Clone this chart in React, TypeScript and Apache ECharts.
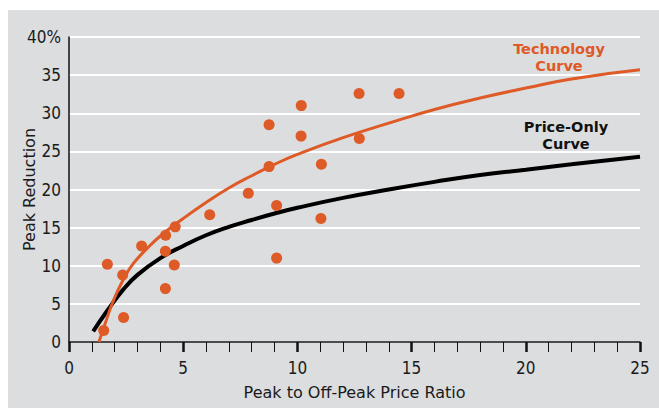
import React, { useEffect, useRef } from "react";
import * as echarts from "echarts";

const xTicks = [0, 5, 10, 15, 20, 25];
const yTicks = [0, 5, 10, 15, 20, 25, 30, 35, 40];

const observedRatio = [1.68, 1.52, 2.35, 2.39, 3.18, 4.23, 4.22, 4.22, 4.65, 4.61, 6.16, 7.85, 8.76, 8.76, 9.09, 9.09, 10.17, 10.16, 11.05, 11.03, 12.7, 12.71, 14.45];
const observedReduction = [10.2, 1.5, 8.8, 3.2, 12.6, 14.0, 11.9, 7.0, 15.1, 10.1, 16.7, 19.5, 28.5, 23.0, 17.9, 11.0, 31.0, 27.0, 23.3, 16.2, 32.6, 26.7, 32.6];

const techX = [1.31, 1.65, 1.94, 2.38, 2.82, 3.4, 4, 5, 6, 7, 8, 9, 10, 12, 14, 16, 18, 20, 22, 25];
const techY = [0, 3.0, 5.4, 8.2, 10.3, 12.2, 13.9, 16.2, 18.3, 20.2, 21.8, 23.3, 24.6, 26.8, 28.7, 30.5, 32.0, 33.3, 34.5, 35.7];

const priceX = [1.06, 1.65, 2.38, 3, 4, 5, 6, 7, 8, 9, 10, 12, 14, 16, 18, 20, 22, 25];
const priceY = [1.4, 4.0, 6.9, 8.8, 11.0, 12.6, 14.0, 15.1, 16.0, 16.85, 17.6, 18.9, 20.0, 21.0, 21.9, 22.6, 23.3, 24.3];

const ORANGE = "#de5a26";
const BG = "#dcdddf";
const NUM_FONT = "'Liberation Sans Narrow', 'DejaVu Sans Condensed', 'Arial Narrow', sans-serif";
const TXT_FONT = "'DejaVu Sans', 'Noto Sans', sans-serif";

export default function App() {
  const ref = useRef<HTMLDivElement>(null);
  useEffect(() => {
    if (!ref.current) return;
    const chart = echarts.init(ref.current, undefined, { renderer: "svg" });
    const zip = (xs: number[], ys: number[]) => xs.map((x, i) => [x, ys[i]]);
    chart.setOption({
      animation: false,
      graphic: [
        { type: "rect", z: -10, silent: true, shape: { x: 8, y: 10, width: 651, height: 398 }, style: { fill: BG } },
        {
          type: "text",
          x: 559,
          y: 57,
          style: { text: "Technology\nCurve", fill: ORANGE, font: `bold 14.5px ${TXT_FONT}`, lineHeight: 17, align: "center", verticalAlign: "middle" },
        },
        {
          type: "text",
          x: 566,
          y: 135,
          style: { text: "Price-Only\nCurve", fill: "#111", font: `bold 14.5px ${TXT_FONT}`, lineHeight: 17, align: "center", verticalAlign: "middle" },
        },
      ],
      grid: { left: 69, right: 19, top: 37, bottom: 67, containLabel: false, outerBoundsMode: "none" },
      xAxis: {
        type: "value",
        min: xTicks[0],
        max: xTicks[xTicks.length - 1],
        interval: 5,
        name: "Peak to Off-Peak Price Ratio",
        nameLocation: "middle",
        nameGap: 42,
        nameMoveOverlap: false,
        nameTextStyle: { color: "#1a1a1a", fontSize: 16, fontFamily: TXT_FONT },
        axisLine: { show: true, onZero: false, lineStyle: { color: "#111", width: 1.5 } },
        axisTick: { show: true, inside: false, length: 10, lineStyle: { color: "#111", width: 2.5 } },
        minorTick: { show: true, splitNumber: 5, length: 10, lineStyle: { color: "#111", width: 1 } },
        splitLine: { show: false },
        axisLabel: { color: "#1a1a1a", fontSize: 17, fontFamily: NUM_FONT, margin: 17 },
      },
      yAxis: {
        type: "value",
        min: yTicks[0],
        max: yTicks[yTicks.length - 1],
        interval: 5,
        name: "Peak Reduction",
        nameLocation: "middle",
        nameGap: 32,
        nameMoveOverlap: false,
        nameTextStyle: { color: "#1a1a1a", fontSize: 16, fontFamily: TXT_FONT },
        axisLine: { show: true, lineStyle: { color: "#111", width: 1.5 } },
        axisTick: { show: false },
        splitLine: { show: true, lineStyle: { color: "#ffffff", width: 2 } },
        axisLabel: {
          color: "#1a1a1a",
          fontSize: 17,
          fontFamily: NUM_FONT,
          margin: 8,
          formatter: (v: number) => (v === 40 ? "40%" : String(v)),
        },
      },
      series: [
        {
          type: "line",
          name: "Price-Only Curve",
          data: zip(priceX, priceY),
          smooth: true,
          showSymbol: false,
          lineStyle: { color: "#000", width: 4 },
          z: 2,
        },
        {
          type: "line",
          name: "Technology Curve",
          data: zip(techX, techY),
          smooth: true,
          showSymbol: false,
          lineStyle: { color: ORANGE, width: 3 },
          z: 3,
        },
        {
          type: "scatter",
          name: "Observed",
          data: zip(observedRatio, observedReduction),
          symbolSize: 11,
          itemStyle: { color: ORANGE, opacity: 1 },
          z: 4,
        },
      ],
    });
    return () => chart.dispose();
  }, []);
  return (
    <div style={{ position: "absolute", left: 0, top: 0, width: 659, height: 409, background: "#fff" }}>
      <div ref={ref} style={{ width: 659, height: 409 }} />
    </div>
  );
}
